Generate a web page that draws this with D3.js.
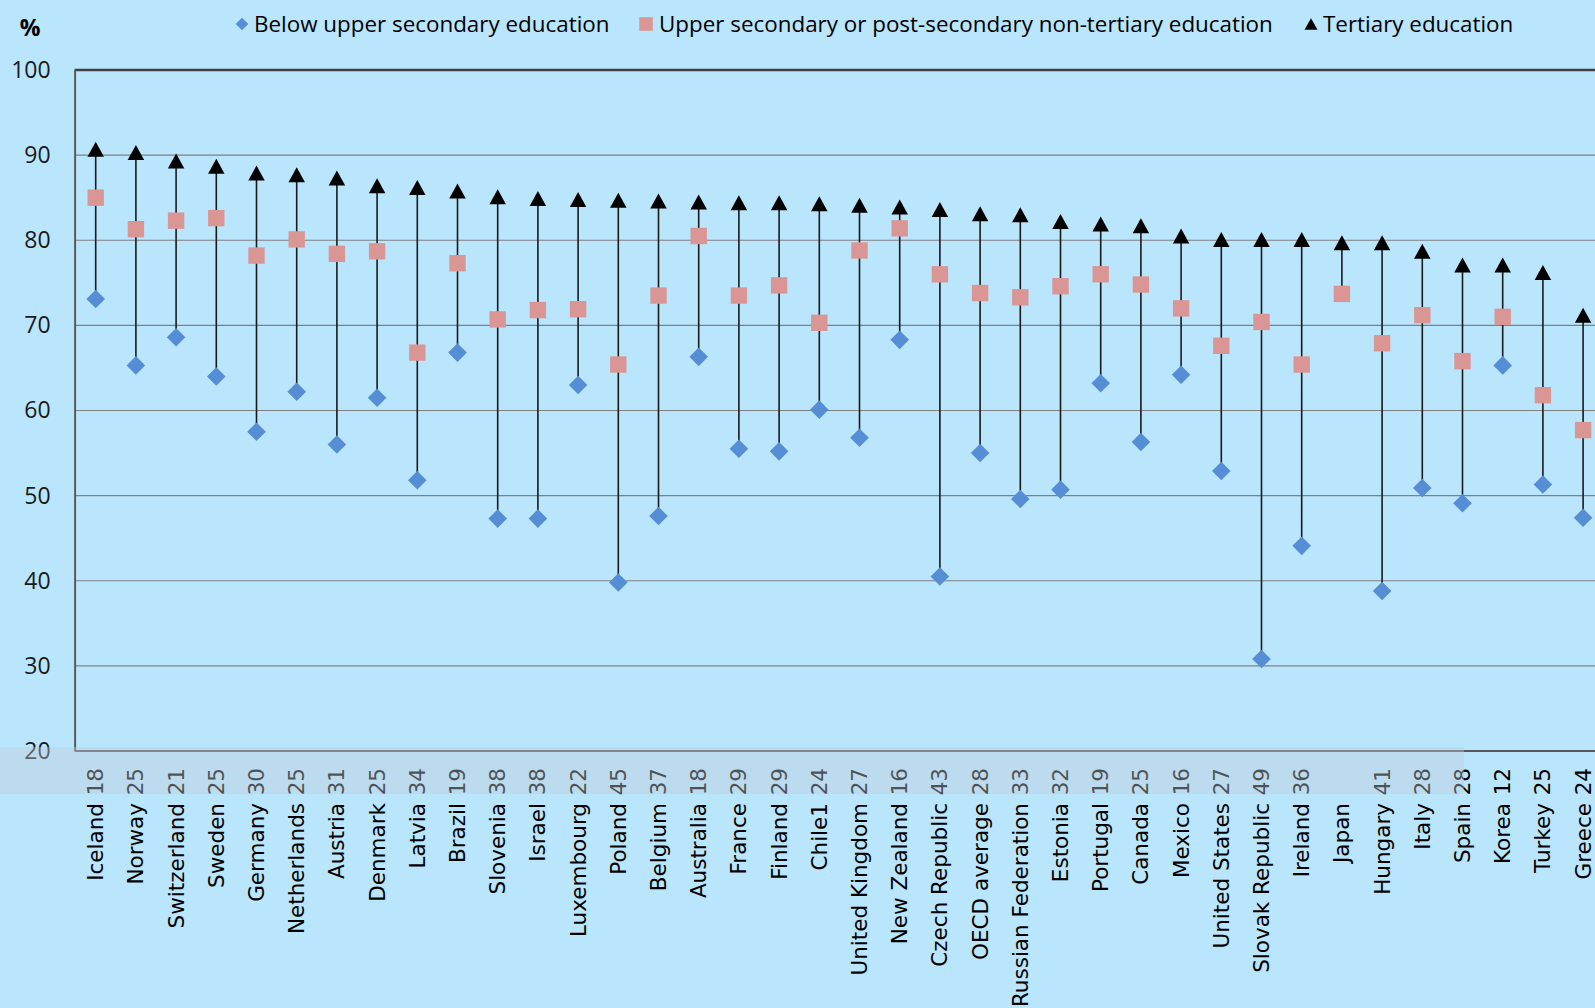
<!DOCTYPE html>
<html>
<head>
<meta charset="utf-8">
<script src="https://cdn.jsdelivr.net/npm/d3@7/dist/d3.min.js"></script>
<style>
  html, body { margin: 0; padding: 0; background: #b9e5fd; overflow: hidden; }
</style>
</head>
<body>
<div id="chart"></div>
<script>
const countries = ["Iceland", "Norway", "Switzerland", "Sweden", "Germany", "Netherlands", "Austria",
  "Denmark", "Latvia", "Brazil", "Slovenia", "Israel", "Luxembourg", "Poland", "Belgium", "Australia",
  "France", "Finland", "Chile1", "United Kingdom", "New Zealand", "Czech Republic", "OECD average",
  "Russian Federation", "Estonia", "Portugal", "Canada", "Mexico", "United States", "Slovak Republic",
  "Ireland", "Japan", "Hungary", "Italy", "Spain", "Korea", "Turkey", "Greece"];

// numbers printed after each country name
const gapLabels = [18, 25, 21, 25, 30, 25, 31, 25, 34, 19, 38, 38, 22, 45, 37, 18, 29, 29, 24, 27,
  16, 43, 28, 33, 32, 19, 25, 16, 27, 49, 36, null, 41, 28, 28, 12, 25, 24];

const belowUpper = [73.1, 65.3, 68.6, 64.0, 57.5, 62.2, 56.0, 61.5, 51.8, 66.8, 47.3, 47.3, 63.0, 39.8,
  47.6, 66.3, 55.5, 55.2, 60.1, 56.8, 68.3, 40.5, 55.0, 49.6, 50.7, 63.2, 56.3, 64.2, 52.9, 30.8,
  44.1, null, 38.8, 50.9, 49.1, 65.3, 51.3, 47.4];

const upperSecondary = [85.0, 81.3, 82.3, 82.6, 78.2, 80.1, 78.4, 78.7, 66.8, 77.3, 70.7, 71.8, 71.9,
  65.4, 73.5, 80.5, 73.5, 74.7, 70.3, 78.8, 81.4, 76.0, 73.8, 73.3, 74.6, 76.0, 74.8, 72.0, 67.6,
  70.4, 65.4, 73.7, 67.9, 71.2, 65.8, 71.0, 61.8, 57.7];

const tertiary = [90.7, 90.3, 89.3, 88.7, 87.9, 87.7, 87.3, 86.4, 86.2, 85.8, 85.1, 84.9, 84.8, 84.7,
  84.6, 84.5, 84.4, 84.4, 84.3, 84.1, 83.9, 83.6, 83.1, 83.0, 82.2, 81.9, 81.7, 80.5, 80.1, 80.1,
  80.1, 79.7, 79.7, 78.7, 77.1, 77.1, 76.2, 71.2];

const yTicks = [20, 30, 40, 50, 60, 70, 80, 90, 100];

const seriesNames = ["Below upper secondary education",
  "Upper secondary or post-secondary non-tertiary education",
  "Tertiary education"];

const width = 1595, height = 1008;
const plotLeft = 75.6, step = 40.2;
const labelTop = 768;

const svg = d3.select("#chart").append("svg")
  .attr("width", width)
  .attr("height", height)
  .style("display", "block");

svg.append("rect").attr("width", width).attr("height", height).attr("fill", "#b9e5fd");

const x = d3.scaleBand()
  .domain(countries)
  .range([plotLeft, plotLeft + step * countries.length]);

const y = d3.scaleLinear()
  .domain([20, 100])
  .range([751, 70]);

const cx = d => x(d) + x.bandwidth() / 2;

// grid lines
svg.append("g")
  .selectAll("line")
  .data(yTicks.filter(t => t > 20 && t < 100))
  .enter().append("line")
  .attr("x1", plotLeft).attr("x2", width)
  .attr("y1", d => y(d)).attr("y2", d => y(d))
  .attr("stroke", "#808080")
  .attr("stroke-width", 1.2);

// frame: top, bottom and left
svg.append("line")
  .attr("x1", plotLeft - 1).attr("x2", width)
  .attr("y1", y(100)).attr("y2", y(100))
  .attr("stroke", "#404040").attr("stroke-width", 2.5);
svg.append("line")
  .attr("x1", plotLeft - 1).attr("x2", width)
  .attr("y1", y(20)).attr("y2", y(20))
  .attr("stroke", "#595959").attr("stroke-width", 2);
svg.append("line")
  .attr("x1", plotLeft - 0.5).attr("x2", plotLeft - 0.5)
  .attr("y1", y(100)).attr("y2", y(20))
  .attr("stroke", "#595959").attr("stroke-width", 2);

// y axis labels
const yAxis = svg.append("g")
  .attr("transform", "translate(" + plotLeft + ",0)")
  .call(d3.axisLeft(y).tickValues(yTicks).tickSize(0).tickPadding(25));
yAxis.select(".domain").remove();
yAxis.selectAll("text")
  .style("font-family", "'Open Sans', sans-serif")
  .style("font-size", "23px")
  .attr("fill", "#1a1a1a");

svg.append("text")
  .attr("x", 30).attr("y", 28).attr("dy", "0.35em")
  .attr("text-anchor", "middle")
  .style("font-family", "'Open Sans', sans-serif")
  .style("font-size", "23px")
  .style("font-weight", "bold")
  .text("%");

// vertical range lines
svg.append("g")
  .selectAll("line")
  .data(countries)
  .enter().append("line")
  .attr("x1", d => cx(d)).attr("x2", d => cx(d))
  .attr("y1", (d, i) => y(tertiary[i]))
  .attr("y2", (d, i) => {
    const vals = [belowUpper[i], upperSecondary[i], tertiary[i]].filter(v => v != null);
    return y(d3.min(vals));
  })
  .attr("stroke", "#1a1a1a")
  .attr("stroke-width", 1.6);

// marker shapes
const diamondPath = s => `M0,${-s}L${s},0L0,${s}L${-s},0Z`;
const squarePath = s => `M${-s},${-s}H${s}V${s}H${-s}Z`;
const trianglePath = (w, h) => `M0,${-h / 2}L${w / 2},${h / 2}L${-w / 2},${h / 2}Z`;

svg.append("g")
  .selectAll("path")
  .data(countries.map((c, i) => ({ c, v: belowUpper[i] })).filter(d => d.v != null))
  .enter().append("path")
  .attr("d", diamondPath(9.3))
  .attr("transform", d => "translate(" + cx(d.c) + "," + y(d.v) + ")")
  .attr("fill", "#558ed5");

svg.append("g")
  .selectAll("path")
  .data(countries.map((c, i) => ({ c, v: upperSecondary[i] })))
  .enter().append("path")
  .attr("d", squarePath(8.2))
  .attr("transform", d => "translate(" + cx(d.c) + "," + y(d.v) + ")")
  .attr("fill", "#da9694");

svg.append("g")
  .selectAll("path")
  .data(countries.map((c, i) => ({ c, v: tertiary[i] })))
  .enter().append("path")
  .attr("d", trianglePath(16.5, 15))
  .attr("transform", d => "translate(" + cx(d.c) + "," + y(d.v) + ")")
  .attr("fill", "#000");

// x labels: number then country name, rotated
const labels = svg.append("g")
  .style("font-family", "'DejaVu Sans', sans-serif")
  .style("font-size", "21.5px");

labels.selectAll("text.num")
  .data(countries.map((c, i) => ({ c, n: gapLabels[i] })).filter(d => d.n != null))
  .enter().append("text")
  .attr("class", "num")
  .attr("transform", d => "translate(" + cx(d.c) + "," + labelTop + ") rotate(-90)")
  .attr("dy", "0.35em")
  .attr("text-anchor", "end")
  .attr("fill", "#000")
  .text(d => d.n);

labels.selectAll("text.name")
  .data(countries)
  .enter().append("text")
  .attr("class", "name")
  .attr("transform", d => "translate(" + cx(d) + "," + (labelTop + 35) + ") rotate(-90)")
  .attr("dy", "0.35em")
  .attr("text-anchor", "end")
  .attr("fill", "#000")
  .text(d => d);

// translucent strip over the bottom axis area
svg.append("rect")
  .attr("x", 0).attr("y", 747)
  .attr("width", 1464).attr("height", 47)
  .attr("fill", "rgba(195,205,215,0.4)");

// legend
const legendItems = [
  { name: seriesNames[0], mx: 242, tx: 254, shape: diamondPath(6.3), color: "#558ed5" },
  { name: seriesNames[1], mx: 646, tx: 659, shape: squarePath(6.8), color: "#da9694" },
  { name: seriesNames[2], mx: 1311, tx: 1323, shape: trianglePath(13, 11.5), color: "#000" }
];
const legend = svg.append("g");
legend.selectAll("path")
  .data(legendItems)
  .enter().append("path")
  .attr("d", d => d.shape)
  .attr("transform", d => "translate(" + d.mx + ",24)")
  .attr("fill", d => d.color);
legend.selectAll("text")
  .data(legendItems)
  .enter().append("text")
  .attr("x", d => d.tx).attr("y", 24).attr("dy", "0.35em")
  .style("font-family", "'Open Sans', sans-serif")
  .style("font-size", "22.4px")
  .attr("fill", "#000")
  .text(d => d.name);
</script>
</body>
</html>
